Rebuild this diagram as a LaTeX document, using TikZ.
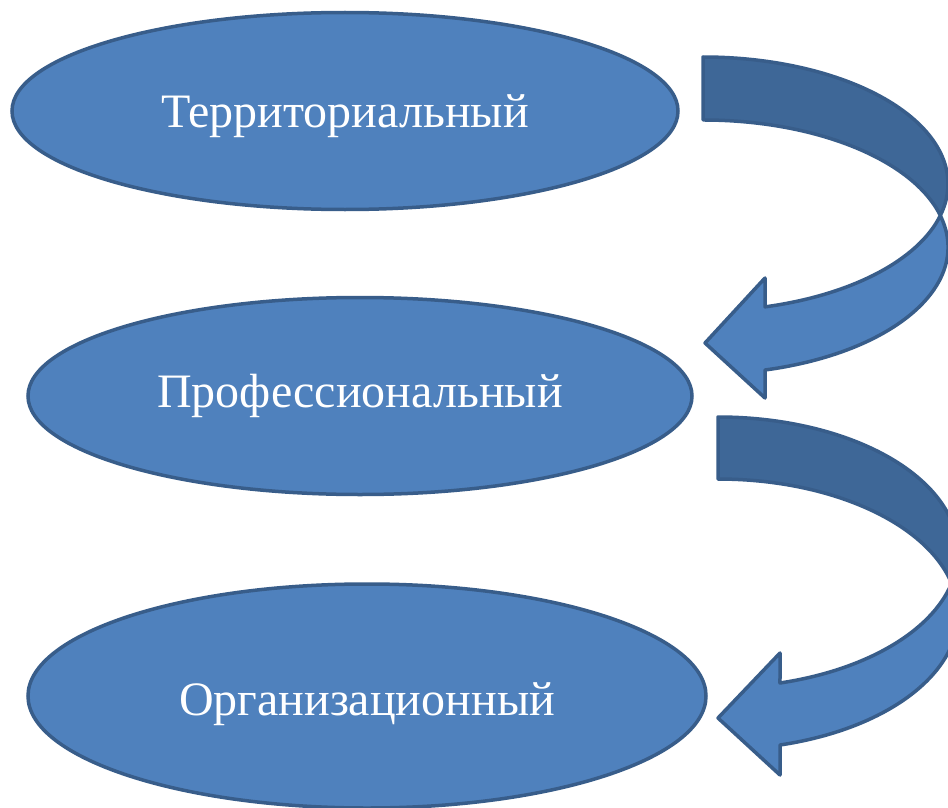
\documentclass[tikz,border=0pt]{standalone}
\usepackage{fontspec}
\setmainfont{Liberation Serif}
\usetikzlibrary{shapes.geometric}
\definecolor{ellfill}{HTML}{4F81BD}
\definecolor{ellline}{HTML}{385D8A}
\definecolor{darkband}{HTML}{3E6797}
\tikzset{
  ell/.style={ellipse, draw=ellline, fill=ellfill, line width=3.5pt, inner sep=0pt,
    text=white, font=\fontsize{48}{56}\selectfont, text height=32pt, text depth=0pt},
  lightpart/.style={draw=ellline, fill=ellfill, line width=3.5pt, line join=round},
  darkpart/.style={draw=ellline, fill=darkband, line width=3.5pt, line join=round}
}
\begin{document}
\begin{tikzpicture}[x=1pt,y=-1pt]
\useasboundingbox (0,0) rectangle (948,808);
\fill[white] (0,0) rectangle (948,808);
\begin{scope}
\clip (0,0) rectangle (948,808);
% ellipses
\node[ell, minimum width=666pt, minimum height=197pt] (t) at (345,111) {Территориальный};
\node[ell, minimum width=664pt, minimum height=197pt] (p) at (360,396) {\raisebox{5pt}{Профессиональный}};
\node[ell, minimum width=678pt, minimum height=224pt] (o) at (367,696) {\raisebox{-3pt}{Организационный}};
% arrow 1: E1 centre (703,184), E2 centre (703,247), a=245, b=127
\draw[lightpart] (940.35,215.5)
  arc[start angle=14.36, end angle=75.34, x radius=245, y radius=127]
  -- (765,278) -- (705,343) -- (765,398) -- (765,370)
  arc[start angle=75.34, end angle=-14.36, x radius=245, y radius=127] -- cycle;
\draw[darkpart] (703,57)
  arc[start angle=-90, end angle=14.36, x radius=245, y radius=127]
  arc[start angle=-14.36, end angle=-90, x radius=245, y radius=127] -- cycle;
% arrow 2: E1 centre (718,552.3), E2 centre (718,614.3), a=240, b=135.3
\draw[lightpart] (951.6,583.3)
  arc[start angle=13.25, end angle=75.03, x radius=240, y radius=135.3]
  -- (780,653) -- (718,718) -- (780,775) -- (780,745)
  arc[start angle=75.03, end angle=-13.25, x radius=240, y radius=135.3] -- cycle;
\draw[darkpart] (718,417)
  arc[start angle=-90, end angle=13.25, x radius=240, y radius=135.3]
  arc[start angle=-13.25, end angle=-90, x radius=240, y radius=135.3] -- cycle;
\end{scope}
\end{tikzpicture}
\end{document}
